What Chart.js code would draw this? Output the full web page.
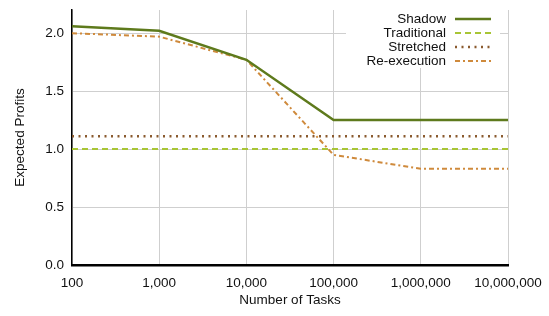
<!DOCTYPE html>
<html>
<head>
<meta charset="utf-8">
<script src="https://cdn.jsdelivr.net/npm/chart.js@4"></script>
<style>
  html,body{margin:0;padding:0;background:#fff;}
  #wrap{width:549px;height:316px;}
</style>
</head>
<body>
<div id="wrap"><canvas id="chart" width="549" height="316"></canvas></div>
<script>
  const TASKS=["100","1,000","10,000","100,000","1,000,000","10,000,000"];
  const SHADOW=[2.06,2.02,1.77,1.25,1.25,1.25];
  const TRADITIONAL=[1.0,1.0,1.0,1.0,1.0,1.0];
  const STRETCHED=[1.11,1.11,1.11,1.11,1.11,1.11];
  const REEXEC=[2.0,1.97,1.77,0.95,0.83,0.83];
  const Y_TICKS=[0,0.5,1.0,1.5,2.0];

  const FONT="'Liberation Sans', Arial, sans-serif";

  // legend at top right: text right aligned, line sample on the right
  const legendRight={
    id:"legendRight",
    beforeDatasetsDraw(chart){
      const ctx=chart.ctx;
      ctx.save();
      ctx.fillStyle="#fff";
      ctx.fillRect(346,10,154,58);
      ctx.restore();
    },
    afterDatasetsDraw(chart){
      const ctx=chart.ctx;
      ctx.save();
      ctx.font="13.5px "+FONT;
      ctx.textAlign="right";ctx.textBaseline="middle";
      chart.data.datasets.forEach((ds,i)=>{
        const y=19+i*14;
        ctx.fillStyle="#111";
        ctx.fillText(ds.label,446,y);
        ctx.beginPath();
        ctx.strokeStyle=ds.borderColor;
        ctx.lineWidth=ds.borderWidth;
        ctx.setLineDash(ds.borderDash||[]);
        ctx.moveTo(455,y);ctx.lineTo(491,y);
        ctx.stroke();
      });
      ctx.restore();
    }
  };

  new Chart(document.getElementById("chart"),{
    type:"line",
    data:{labels:TASKS,datasets:[
      {label:"Shadow",data:SHADOW,borderColor:"#5E7A1C",borderWidth:2.5,pointRadius:0,fill:false,tension:0},
      {label:"Traditional",data:TRADITIONAL,borderColor:"#A8C535",borderWidth:2,borderDash:[6,4],pointRadius:0,fill:false},
      {label:"Stretched",data:STRETCHED,borderColor:"#8A5A2E",borderWidth:2.5,borderDash:[2,4.5],pointRadius:0,fill:false},
      {label:"Re-execution",data:REEXEC,borderColor:"#CF8A3C",borderWidth:2,borderDash:[5,3,2,3],pointRadius:0,fill:false}
    ]},
    options:{
      responsive:false,animation:false,
      layout:{padding:{top:10,right:41,left:0,bottom:0}},
      plugins:{legend:{display:false},tooltip:{enabled:false}},
      scales:{
        x:{type:"category",offset:false,
          grid:{color:"#cfcfcf",lineWidth:1,drawTicks:false},
          border:{color:"#000",width:2.5},
          ticks:{color:"#111",font:{family:FONT,size:13.5},padding:10,maxRotation:0,autoSkip:false},
          title:{display:true,text:"Number of Tasks",color:"#111",font:{family:FONT,size:13.5},padding:{top:2,bottom:8}},
          afterFit(s){s.height=51;s.paddingLeft=0;s.paddingRight=0;}
        },
        y:{min:0,max:2.2,
          grid:{color:"#cfcfcf",lineWidth:1,drawTicks:false},
          border:{color:"#000",width:1.5},
          afterBuildTicks(s){s.ticks=Y_TICKS.map(v=>({value:v}));},
          ticks:{color:"#111",font:{family:FONT,size:13.5},padding:8,callback:v=>Number(v).toFixed(1)},
          title:{display:true,text:"Expected Profits",color:"#111",font:{family:FONT,size:13.5},padding:{top:12,bottom:4}},
          afterFit(s){s.width=72;s.paddingTop=0;s.paddingBottom=0;}
        }
      }
    },
    plugins:[legendRight]
  });
</script>
</body>
</html>
